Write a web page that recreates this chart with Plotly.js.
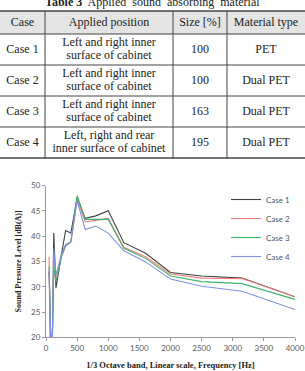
<!DOCTYPE html>
<html>
<head>
<meta charset="utf-8">
<script src="https://cdn.plot.ly/plotly-3.0.1.min.js"></script>
<style>
html,body{margin:0;padding:0;background:#fff;overflow:hidden;}
</style>
</head>
<body>
<div id="chart" style="width:305px;height:371px;"></div>
<script>
// ---- table data ----
var tableHeader = ["Case", "Applied position", "Size [%]", "Material type"];
var caseNames = ["Case 1", "Case 2", "Case 3", "Case 4"];
var positions = [
  "Left and right inner<br>surface of cabinet",
  "Left and right inner<br>surface of cabinet",
  "Left and right inner<br>surface of cabinet",
  "Left, right and rear<br>inner surface of cabinet"
];
var sizes = ["100", "100", "163", "195"];
var materials = ["PET", "Dual PET", "Dual PET", "Dual PET"];

// ---- chart data ----
var freq = [50, 63, 80, 100, 125, 160, 200, 250, 315, 400, 500, 630, 800, 1000, 1250, 1600, 2000, 2500, 3150, 4000];
var case1 = [33.0, 18, 18, 18, 40.6, 29.7, 33.0, 36.5, 41.1, 40.6, 47.6, 43.5, 44.0, 45.0, 38.7, 36.6, 32.8, 32.1, 31.7, 28.0];
var case2 = [35.9, 18, 18, 18, 33.0, 31.3, 33.5, 36.0, 38.0, 38.8, 47.3, 42.8, 43.1, 43.5, 37.8, 35.9, 32.5, 31.7, 31.6, 28.0];
var case3 = [34.0, 18, 18, 18, 34.0, 31.0, 33.5, 36.0, 38.2, 38.9, 48.0, 43.3, 43.3, 43.3, 37.6, 35.6, 32.1, 31.0, 30.6, 27.5];
var case4 = [33.0, 18, 18, 18, 37.6, 32.3, 34.0, 36.5, 38.3, 38.9, 47.0, 41.3, 42.0, 40.6, 37.1, 34.9, 31.5, 30.1, 29.1, 25.5];
var seriesNames = ["Case 1", "Case 2", "Case 3", "Case 4"];
var yTicks = [20, 25, 30, 35, 40, 45, 50];
var xTicks = [0, 500, 1000, 1500, 2000, 2500, 3000, 3500, 4000];

// ---- styles ----
var seriesColors = ["#404040", "#ee8080", "#3fb26a", "#8090e6"];
var colWidths = [45, 128, 54, 78];
var headerH = 23, rowH = 31, lineGap = 12.5;

var W = 305, H = 371;
function px(x){ return x / W; }
function py(y){ return (H - y) / H; }

var serif = "Liberation Serif, Times New Roman, serif";
var sans = "Lato, Liberation Sans, sans-serif";

// table geometry from styles
var colEdges = [0];
colWidths.forEach(function(w){ colEdges.push(colEdges[colEdges.length-1] + w); });
var colCenters = colWidths.map(function(w, i){ return colEdges[i] + w/2; });
var tableH = headerH + rowH * caseNames.length;

var tx = [], ty = [], tt = [];
function addCell(text, col, yc) {
  var parts = text.split("<br>");
  var n = parts.length;
  parts.forEach(function(p, k){
    tx.push(colCenters[col]);
    ty.push(yc + (k - (n-1)/2) * lineGap);
    tt.push(p);
  });
}
tableHeader.forEach(function(h, c){ addCell(h, c, headerH/2); });
var columns = [caseNames, positions, sizes, materials];
caseNames.forEach(function(_, r){
  var yc = headerH + rowH * r + rowH/2;
  columns.forEach(function(col, c){ addCell(col[r], c, yc); });
});

var shapes = [{
  type: "rect", xref: "x2", yref: "y2", x0: 0, x1: colEdges[4], y0: 0, y1: headerH,
  fillcolor: "#e4e4e4", line: {width: 0}, layer: "below"
}];
var hLines = [0, headerH];
caseNames.forEach(function(_, r){ hLines.push(headerH + rowH*(r+1)); });
hLines.forEach(function(y, i){
  shapes.push({type: "line", xref: "x2", yref: "y2", x0: 0, x1: colEdges[4], y0: y, y1: y,
    line: {color: "#444", width: (i === 0 || i === hLines.length-1) ? 1.5 : 1}});
});
[1, 2, 3].forEach(function(c){
  shapes.push({type: "line", xref: "x2", yref: "y2", x0: colEdges[c], x1: colEdges[c], y0: 0, y1: tableH,
    line: {color: "#444", width: 1}});
});

var data = [{
  type: "scatter", mode: "text", x: tx, y: ty, text: tt,
  textposition: "middle center", cliponaxis: false,
  textfont: {family: serif, size: 12, color: "#222"},
  xaxis: "x2", yaxis: "y2", showlegend: false, hoverinfo: "skip"
}];
var ys = [case1, case2, case3, case4];
for (var i = 0; i < 4; i++) {
  data.push({
    type: "scatter", mode: "lines",
    x: freq, y: ys[i], name: seriesNames[i],
    line: {color: seriesColors[i], width: 1.1},
    xaxis: "x", yaxis: "y"
  });
}

var layout = {
  width: W, height: H,
  margin: {l: 0, r: 0, t: 0, b: 0},
  paper_bgcolor: "#fff", plot_bgcolor: "#fff",
  showlegend: true,
  legend: {
    x: px(226), y: py(185), xanchor: "left", yanchor: "top",
    font: {family: sans, size: 8, color: "#555"},
    bgcolor: "rgba(0,0,0,0)", tracegroupgap: 0
  },
  xaxis: {
    domain: [px(46), px(295)],
    range: [0, 4000], tickvals: xTicks, ticktext: xTicks.map(String),
    showgrid: false, zeroline: false,
    showline: true, linecolor: "#999", linewidth: 1,
    ticks: "outside", ticklen: 3, tickcolor: "#999",
    tickfont: {family: sans, size: 8, color: "#595959"},
    title: {text: "<b>1/3 Octave band, Linear scale, Frequency [Hz]</b>",
            font: {family: serif, size: 8.5, color: "#222"}, standoff: 10},
    anchor: "y"
  },
  yaxis: {
    domain: [py(337.3), py(185.5)],
    range: [20, 50], tickvals: yTicks, ticktext: yTicks.map(String),
    showgrid: false, zeroline: false,
    showline: true, linecolor: "#999", linewidth: 1,
    ticks: "outside", ticklen: 3, tickcolor: "#999",
    tickfont: {family: sans, size: 8, color: "#595959"},
    title: {text: "<b>Sound Pressure Level [dB(A)]</b>",
            font: {family: serif, size: 8, color: "#222"}, standoff: 8},
    anchor: "x"
  },
  xaxis2: {domain: [0, 1], range: [0, W], visible: false, fixedrange: true, anchor: "y2"},
  yaxis2: {domain: [py(10 + tableH + 2), py(10)], range: [tableH + 1, -1], visible: false, fixedrange: true, anchor: "x2"},
  shapes: shapes,
  annotations: [{
    xref: "paper", yref: "paper", x: px(152), y: py(2), xanchor: "center", yanchor: "middle",
    text: "<b>Table 3</b>  Applied  sound  absorbing  material", showarrow: false,
    font: {family: serif, size: 12, color: "#222"}
  }]
};

Plotly.newPlot("chart", data, layout, {displayModeBar: false, staticPlot: true});
</script>
</body>
</html>
